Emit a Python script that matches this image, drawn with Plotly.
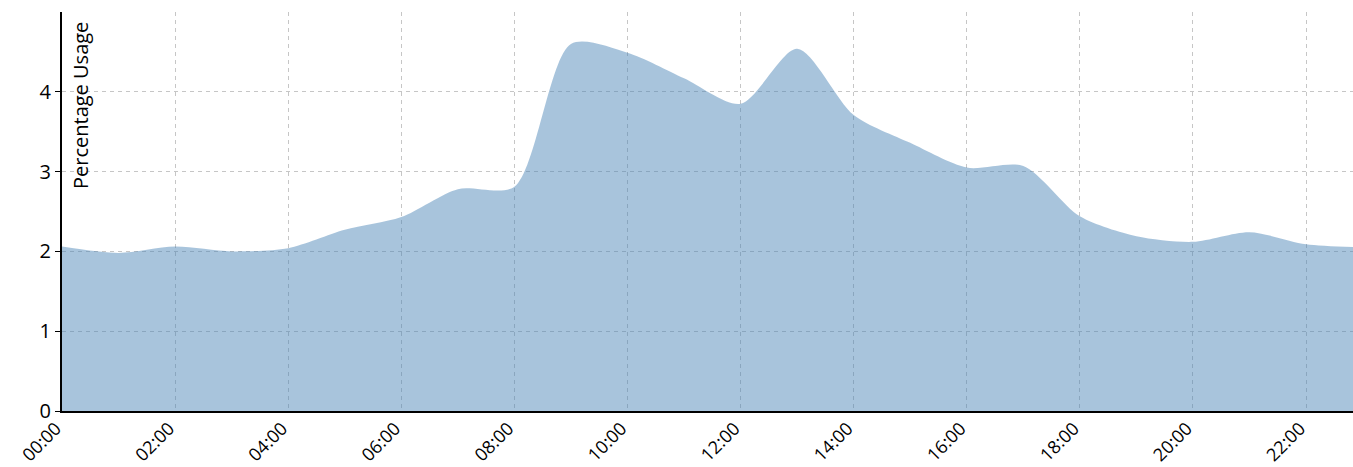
import plotly.graph_objects as go

hours = [f"{h:02d}:00" for h in range(24)]
usage = [2.06, 1.98, 2.06, 2.00, 2.04, 2.27, 2.43, 2.78, 2.81, 4.60, 4.49, 4.17,
         3.85, 4.54, 3.71, 3.36, 3.05, 3.07, 2.44, 2.19, 2.12, 2.24, 2.09, 2.05]
x_ticks = hours[::2]
y_ticks = [0, 1, 2, 3, 4]

fig = go.Figure()
fig.add_trace(go.Scatter(
    x=hours, y=usage, mode="lines", fill="tozeroy",
    line=dict(shape="spline", smoothing=0.8, width=0, color="rgba(70,130,180,0.47)"),
    fillcolor="rgba(70,130,180,0.47)", hoverinfo="x+y", showlegend=False,
))

font = "Open Sans, Noto Sans, DejaVu Sans, sans-serif"
fig.update_layout(
    width=1353, height=467,
    margin=dict(l=62, r=0, t=12, b=56),
    paper_bgcolor="white", plot_bgcolor="white",
    font=dict(family=font, size=20, color="black"),
    xaxis=dict(
        type="category", range=[0, 22.83], tickvals=x_ticks, ticktext=x_ticks,
        tickangle=-45, showgrid=True, gridcolor="rgba(128,128,128,0.45)",
        griddash="4px,4px", gridwidth=1, zeroline=False,
        showline=True, linecolor="black", linewidth=2, ticks="", ticklen=0,
        tickfont=dict(size=18, family=font), automargin=False,
        ticklabelshift=-6, ticklabelstandoff=-2,
    ),
    yaxis=dict(
        range=[0, 5], tickvals=y_ticks, showgrid=True,
        gridcolor="rgba(128,128,128,0.45)", griddash="4px,4px", gridwidth=1,
        zeroline=False, showline=True, linecolor="black", linewidth=2,
        ticks="outside", ticklen=5, tickcolor="black", tickwidth=1,
        tickfont=dict(size=20, family=font), automargin=False,
    ),
    annotations=[dict(
        text="Percentage Usage", textangle=-90, xref="paper", yref="paper",
        x=0, y=1, xanchor="left", yanchor="top", xshift=3, yshift=-8,
        showarrow=False, font=dict(size=20, family=font, color="black"),
    )],
)

fig.write_html("out.html", config={"displayModeBar": False},
               post_script="document.body.style.margin='0';")
